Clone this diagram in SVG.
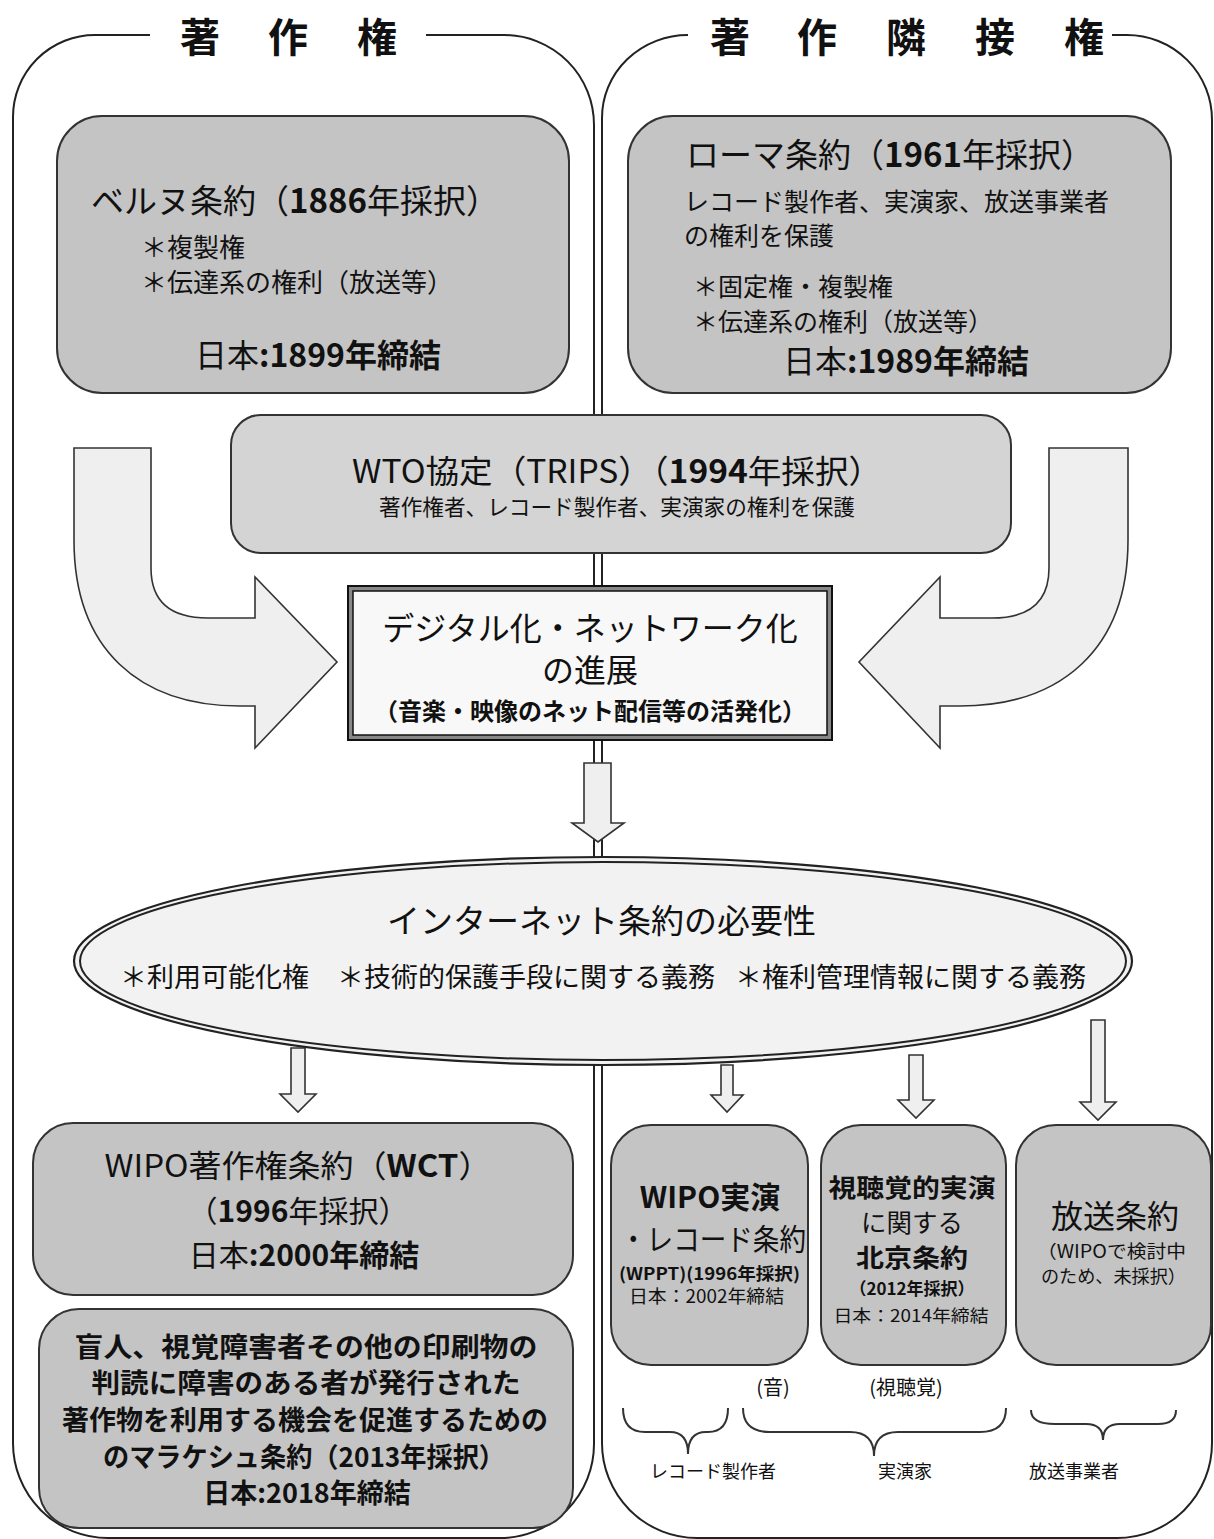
<svg xmlns="http://www.w3.org/2000/svg" width="1214" height="1539" viewBox="0 0 1214 1539">
<style>
text{font-family:"Noto Sans CJK JP","Noto Sans",sans-serif;fill:#111}
.b{font-weight:bold}
.panel{fill:none;stroke:#222;stroke-width:2}
.box{fill:#c4c4c4;stroke:#333;stroke-width:2}
.arr{fill:#efefef;stroke:#333;stroke-width:1.6}
.brace{fill:none;stroke:#333;stroke-width:2}
.c{text-anchor:middle}
</style>
<rect width="1214" height="1539" fill="#fff"/>
<g id="panel-left">
<path class="panel" d="M150,35 L95,35 A82,82 0 0 0 13,117 L13,1443 A95,95 0 0 0 108,1538 L500,1538 A94,94 0 0 0 594,1444 L594,125 A90,90 0 0 0 504,35 L426,35"/>
<text class="b" font-size="40" x="180 268 357" y="52">著作権</text>
</g>
<g id="panel-right">
<path class="panel" d="M688,35 A86,83 0 0 0 602,118 L602,1443 A95,95 0 0 0 697,1538 L1117,1538 A95,95 0 0 0 1212,1443 L1212,120 A85,85 0 0 0 1127,35 L1112,35"/>
<text class="b" font-size="40" x="710 797 886 975 1064" y="52">著作隣接権</text>
</g>
<g id="connectors">
<path class="arr" d="M74,448 L151,448 L151,568 Q151,618 208,618 L255,618 L255,577 L337,662 L255,748 L255,706 L240,706 C140,706 74,650 74,540 Z"/>
<path class="arr" d="M1049,448 L1128,448 L1128,540 C1128,650 1060,706 960,706 L940,706 L940,748 L859,662 L940,577 L940,618 L992,618 Q1049,618 1049,568 Z"/>
<path class="arr" d="M584,763 L611,763 L611,823 L624,823 L598,842 L572,823 L584,823 Z"/>
<path class="arr" d="M291,1048 L305,1048 L305,1094 L316,1094 L298,1112 L280,1094 L291,1094 Z"/>
<path class="arr" d="M721,1065 L733,1065 L733,1095 L743,1095 L727,1112 L711,1095 L721,1095 Z"/>
<path class="arr" d="M909,1055 L923,1055 L923,1100 L934,1100 L916,1118 L898,1100 L909,1100 Z"/>
<path class="arr" d="M1091,1020 L1105,1020 L1105,1102 L1116,1102 L1098,1120 L1080,1102 L1091,1102 Z"/>
<path class="brace" d="M623,1408 Q623,1432 645,1432 L670,1432 Q688,1432 688,1454 Q688,1432 706,1432 L708,1432 Q728,1432 728,1408"/>
<path class="brace" d="M743,1408 Q743,1432 770,1432 L850,1432 Q874,1432 874,1456 Q874,1432 898,1432 L980,1432 Q1006,1432 1006,1408"/>
<path class="brace" d="M1031,1410 Q1031,1424 1055,1424 L1086,1424 Q1103,1424 1103,1440 Q1103,1424 1120,1424 L1158,1424 Q1176,1424 1176,1410"/>
</g>
<g id="berne">
<rect class="box" x="57" y="116" width="512" height="277" rx="45"/>
<text font-size="33" x="91" y="213">ベルヌ条約（<tspan class="b">1886</tspan>年採択）</text>
<text font-size="26" x="141" y="257">＊複製権</text>
<text font-size="26" x="141" y="292">＊伝達系の権利（放送等）</text>
<text font-size="32" x="195" y="367">日本<tspan class="b">:1899年締結</tspan></text>
</g>
<g id="rome">
<rect class="box" x="628" y="116" width="543" height="277" rx="45"/>
<text font-size="33" x="686" y="167">ローマ条約（<tspan class="b">1961</tspan>年採択）</text>
<text font-size="25" x="684" y="211">レコード製作者、実演家、放送事業者</text>
<text font-size="25" x="684" y="245">の権利を保護</text>
<text font-size="25" x="693" y="296">＊固定権・複製権</text>
<text font-size="25" x="693" y="331">＊伝達系の権利（放送等）</text>
<text font-size="32" x="783" y="373">日本<tspan class="b">:1989年締結</tspan></text>
</g>
<g id="wto">
<rect x="231" y="415" width="780" height="138" rx="30" fill="#d4d4d4" stroke="#333" stroke-width="2"/>
<text font-size="32" x="352" y="483" textLength="530" lengthAdjust="spacingAndGlyphs">WTO協定（TRIPS）（<tspan class="b">1994</tspan>年採択）</text>
<text font-size="22" x="379" y="515" textLength="476" lengthAdjust="spacingAndGlyphs">著作権者、レコード製作者、実演家の権利を保護</text>
</g>
<g id="digital">
<rect x="348" y="586" width="484" height="154" fill="#888" stroke="#111" stroke-width="2"/>
<rect x="353" y="591" width="474" height="144" fill="#f8f8f8" stroke="#111" stroke-width="1.5"/>
<text class="c" font-size="32" x="590" y="640">デジタル化・ネットワーク化</text>
<text class="c" font-size="32" x="590" y="682">の進展</text>
<text class="c b" font-size="24" x="590" y="720">（音楽・映像のネット配信等の活発化）</text>
</g>
<g id="internet">
<ellipse cx="603" cy="961" rx="529" ry="104" fill="#f2f2f2" stroke="#222" stroke-width="2.2"/>
<ellipse cx="603" cy="961" rx="523" ry="99" fill="none" stroke="#222" stroke-width="2"/>
<text font-size="33" x="387" y="933">インターネット条約の必要性</text>
<text font-size="27" y="987"><tspan x="120">＊利用可能化権</tspan><tspan x="337">＊技術的保護手段に関する義務</tspan><tspan x="735">＊権利管理情報に関する義務</tspan></text>
</g>
<g id="wct">
<rect class="box" x="33" y="1123" width="540" height="172" rx="40"/>
<text class="c" font-size="31" x="298" y="1177" textLength="387" lengthAdjust="spacingAndGlyphs">WIPO著作権条約（<tspan class="b">WCT</tspan>）</text>
<text class="c" font-size="30" x="298" y="1222">（<tspan class="b">1996</tspan>年採択）</text>
<text class="c" font-size="30" x="304" y="1266">日本<tspan class="b">:2000年締結</tspan></text>
</g>
<g id="marrakesh">
<rect class="box" x="39" y="1309" width="534" height="219" rx="40"/>
<text class="c b" font-size="27" x="306" y="1357" textLength="463" lengthAdjust="spacingAndGlyphs">盲人、視覚障害者その他の印刷物の</text>
<text class="c b" font-size="27" x="306" y="1393" textLength="429" lengthAdjust="spacingAndGlyphs">判読に障害のある者が発行された</text>
<text class="c b" font-size="27" x="305" y="1430" textLength="486" lengthAdjust="spacingAndGlyphs">著作物を利用する機会を促進するための</text>
<text class="c b" font-size="27" x="304" y="1467" textLength="402" lengthAdjust="spacingAndGlyphs">のマラケシュ条約（2013年採択）</text>
<text class="c b" font-size="27" x="307" y="1503">日本:2018年締結</text>
</g>
<g id="wppt">
<rect class="box" x="611" y="1125" width="197" height="240" rx="40"/>
<text class="c b" font-size="30" x="710" y="1208">WIPO実演</text>
<text font-size="30" x="620" y="1250" textLength="186" lengthAdjust="spacingAndGlyphs">・レコード条約</text>
<text class="b" font-size="17" x="619" y="1280" textLength="181" lengthAdjust="spacingAndGlyphs">(WPPT)(1996年採択)</text>
<text font-size="18" x="629" y="1303" textLength="155" lengthAdjust="spacingAndGlyphs">日本：2002年締結</text>
</g>
<g id="beijing">
<rect class="box" x="821" y="1125" width="185" height="240" rx="40"/>
<text class="c b" font-size="25" x="912" y="1197" textLength="167" lengthAdjust="spacingAndGlyphs">視聴覚的実演</text>
<text class="c" font-size="25" x="912" y="1232" textLength="102" lengthAdjust="spacingAndGlyphs">に関する</text>
<text class="c b" font-size="25" x="912" y="1267" textLength="112" lengthAdjust="spacingAndGlyphs">北京条約</text>
<text class="c b" font-size="17" x="912" y="1295">（2012年採択）</text>
<text class="c" font-size="17" x="911" y="1322" textLength="155" lengthAdjust="spacingAndGlyphs">日本：2014年締結</text>
</g>
<g id="broadcast">
<rect class="box" x="1016" y="1125" width="195" height="240" rx="40"/>
<text class="c" font-size="32" x="1115" y="1228">放送条約</text>
<text font-size="18" x="1037" y="1258" textLength="149" lengthAdjust="spacingAndGlyphs">（WIPOで検討中</text>
<text font-size="18" x="1041" y="1283" textLength="145" lengthAdjust="spacingAndGlyphs">のため、未採択）</text>
</g>
<g id="labels">
<text class="c" font-size="20" x="773" y="1395">(音)</text>
<text class="c" font-size="20" x="906" y="1395">(視聴覚)</text>
<text class="c" font-size="18" x="713" y="1478">レコード製作者</text>
<text class="c" font-size="18" x="905" y="1478">実演家</text>
<text class="c" font-size="18" x="1074" y="1478">放送事業者</text>
</g>
</svg>
